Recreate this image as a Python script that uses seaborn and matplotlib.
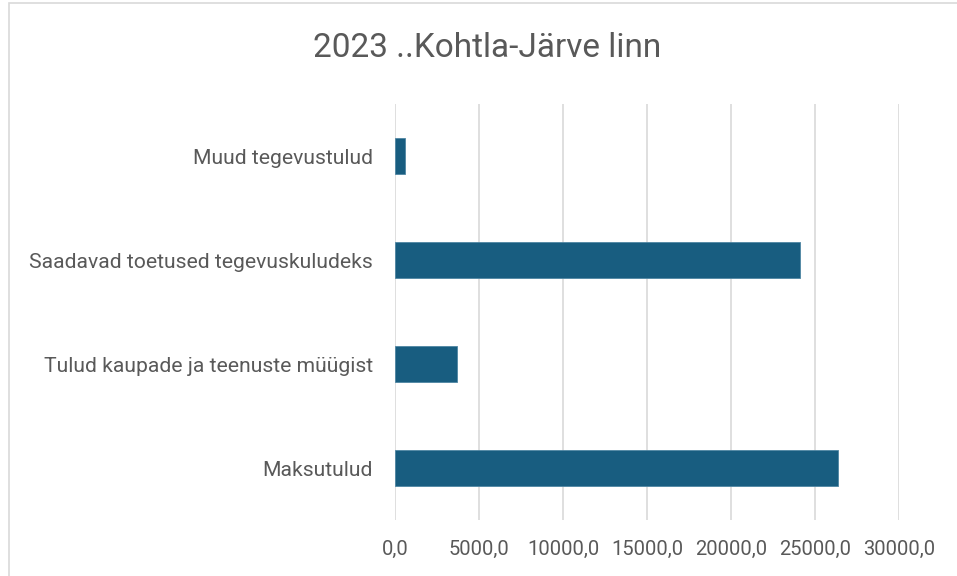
import numpy as np
import pandas as pd
import seaborn as sns
import matplotlib.pyplot as plt
from matplotlib.patches import Rectangle
from matplotlib.ticker import FuncFormatter

# data
categories = ['Muud tegevustulud',
              'Saadavad toetused tegevuskuludeks',
              'Tulud kaupade ja teenuste müügist',
              'Maksutulud']
values = [600.0, 24120.0, 3680.0, 26390.0]
x_ticks = [0, 5000, 10000, 15000, 20000, 25000, 30000]
title = '2023 ..Kohtla-Järve linn'

df = pd.DataFrame({'kategooria': categories, 'summa': values})

sns.set_theme(style='white')
plt.rcParams['font.family'] = ['Roboto', 'DejaVu Sans']
text_color = '#595959'

fig = plt.figure(figsize=(9.57, 5.76), dpi=100)
W, H = 957, 576
ax = fig.add_axes([395 / W, 1 - 520 / H, (899 - 395) / W, (520 - 104) / H])

sns.barplot(data=df, x='summa', y='kategooria', orient='h', order=categories,
            color='#185d80', saturation=1, width=0.35, ax=ax,
            edgecolor='#4f86a3', linewidth=0.6)

ax.set_xlim(0, 30000)
ax.set_xticks(x_ticks)
ax.xaxis.set_major_formatter(FuncFormatter(lambda v, p: f'{v:.1f}'.replace('.', ',')))
ax.grid(axis='x', color='#d9d9d9', linewidth=1.2)
ax.set_axisbelow(True)
for s in ax.spines.values():
    s.set_visible(False)
ax.set_xlabel('')
ax.set_ylabel('')
ax.tick_params(axis='x', length=0, pad=14, labelsize=14.5, labelcolor=text_color)
ax.tick_params(axis='y', length=0, pad=16, labelsize=15.2, labelcolor=text_color)

fig.text(487 / W, 1 - 48 / H, title, ha='center', va='center',
         fontsize=24, color=text_color)

# chart area border
fig.patches.append(Rectangle((9 / W, -0.05), 1.2, 1.05 - 3 / H, transform=fig.transFigure,
                             fill=False, edgecolor='#d9d9d9', linewidth=1.2))

fig.savefig('out.png', dpi=100)
